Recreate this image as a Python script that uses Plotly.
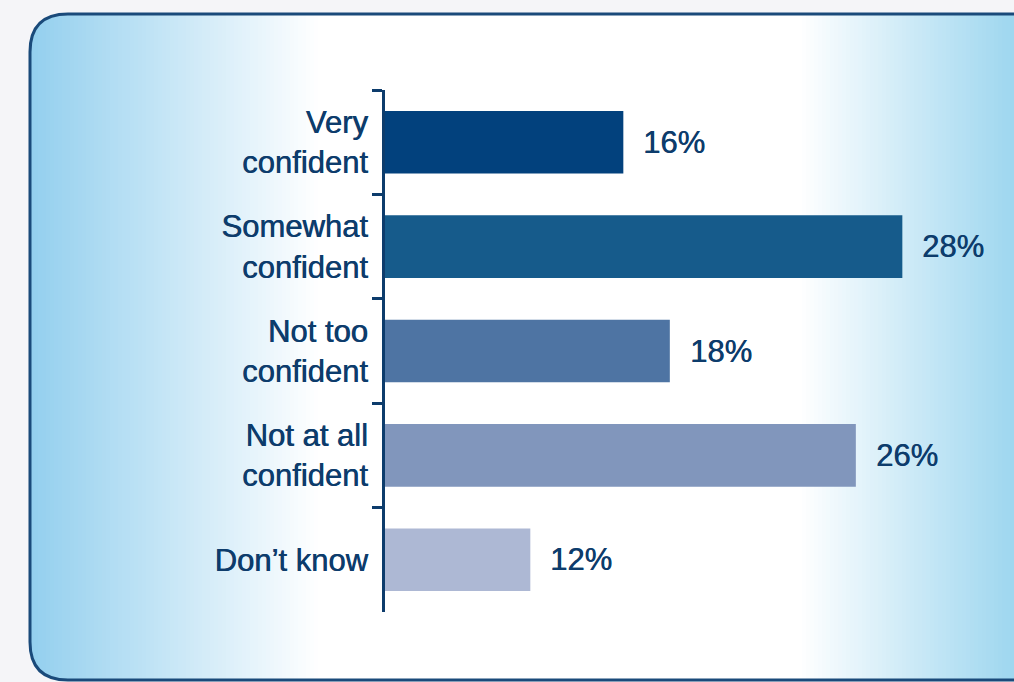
import plotly.graph_objects as go

# ---- data ----
categories = ["Very<br>confident", "Somewhat<br>confident", "Not too<br>confident",
              "Not at all<br>confident", "Don’t know"]
values = [16, 28, 18, 26, 12]
value_labels = ["16%", "28%", "18%", "26%", "12%"]
bar_colors = ["#02417d", "#165b8b", "#4e74a3", "#8196bc", "#adb8d4"]

W, H = 1014, 682
ML, MR, MT, MB = 385, 14, 90, 70
PW, PH = W - ML - MR, H - MT - MB
NAVY = "#0d3c6c"
BG = "#f5f5f8"
FONT = dict(family="Liberation Sans, Arial", size=31, color=NAVY,
            shadow="0.6px 0px 0px #0d3c6c")


def px2x(px):
    return (px - ML) / PW


def px2y(py):
    return (H - MB - py) / PH


fig = go.Figure()
fig.add_trace(go.Bar(
    y=categories, x=values, orientation="h",
    marker=dict(color=bar_colors, line=dict(width=0)),
    hoverinfo="skip",
))

annotations = []
for c, v, t in zip(categories, values, value_labels):
    annotations.append(dict(x=v, y=c, xref="x", yref="y", text=t, showarrow=False,
                            xanchor="left", yanchor="middle", xshift=18, font=FONT))

# ---- background panel with horizontal gradient ----
shapes = []
left_c = (147, 207, 238)
right_c = (157, 214, 239)
x0p, x1p = 30, 1016
top, bot = 14, 680
step = 4
px = x0p
while px < x1p:
    mid = px + step / 2
    if mid <= 320:
        f = (mid - x0p) / (320 - x0p)
        col = tuple(int(round(a + (255 - a) * f)) for a in left_c)
    elif mid >= 800:
        f = (x1p - mid) / (x1p - 800)
        col = tuple(int(round(a + (255 - a) * f)) for a in right_c)
    else:
        col = (255, 255, 255)
    shapes.append(dict(type="rect", xref="paper", yref="paper", layer="below",
                       x0=px2x(px), x1=px2x(min(px + step + 0.6, x1p)),
                       y0=px2y(bot), y1=px2y(top),
                       fillcolor="rgb(%d,%d,%d)" % col, line=dict(width=0)))
    px += step

r = 38


def P(x, y):
    return "%f,%f" % (px2x(x), px2y(y))


# corner masks (area outside the rounded corners)
shapes.append(dict(type="path", xref="paper", yref="paper", layer="below",
                   path="M%s L%s L%s Q%s %s L%s Z" % (
                       P(26, 10), P(30 + r, 10), P(30 + r, top), P(30, top), P(30, top + r), P(26, top + r)),
                   fillcolor=BG, line=dict(width=0)))
shapes.append(dict(type="path", xref="paper", yref="paper", layer="below",
                   path="M%s L%s Q%s %s L%s L%s Z" % (
                       P(26, bot - r), P(30, bot - r), P(30, bot), P(30 + r, bot), P(30 + r, 686), P(26, 686)),
                   fillcolor=BG, line=dict(width=0)))
# border
shapes.append(dict(type="path", xref="paper", yref="paper", layer="below",
                   path="M%s L%s Q%s %s L%s Q%s %s L%s" % (
                       P(1020, top), P(30 + r, top), P(30, top), P(30, top + r),
                       P(30, bot - r), P(30, bot), P(30 + r, bot), P(1020, bot)),
                   line=dict(color="#1a4a7a", width=3)))

fig.update_layout(
    width=W, height=H,
    margin=dict(l=ML, r=MR, t=MT, b=MB, pad=0),
    paper_bgcolor=BG, plot_bgcolor="rgba(0,0,0,0)",
    showlegend=False, bargap=0.4,
    shapes=shapes, annotations=annotations,
    xaxis=dict(range=[5.75, 32.2], visible=False, fixedrange=True),
    yaxis=dict(categoryorder="array", categoryarray=categories, autorange="reversed",
               showline=True, linewidth=3, linecolor=NAVY,
               ticks="outside", ticklen=10, tickwidth=3, tickcolor=NAVY,
               tickson="boundaries", ticklabelstandoff=8,
               showgrid=False, zeroline=False,
               tickfont=FONT, fixedrange=True),
)

fig.write_html("out.html", config={"displayModeBar": False})
